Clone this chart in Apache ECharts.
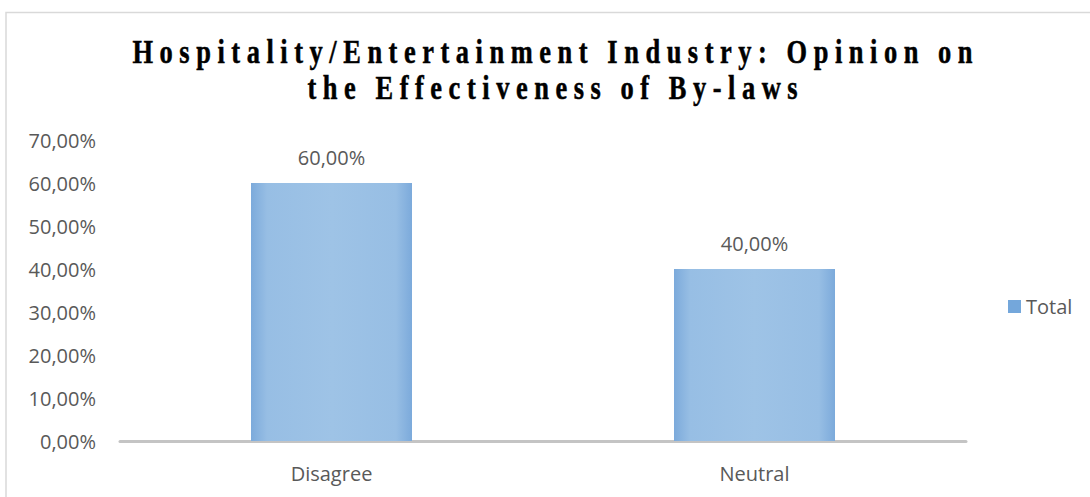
<!DOCTYPE html>
<html>
<head>
<meta charset="utf-8">
<title>Hospitality/Entertainment Industry: Opinion on the Effectiveness of By-laws</title>
<script src="https://cdn.jsdelivr.net/npm/echarts@6/dist/echarts.min.js"></script>
<style>
  html, body { margin: 0; padding: 0; background: #ffffff; }
  #chart { width: 1090px; height: 497px; }
  /* widely tracked serif heading */
  #chart svg text[style*="Liberation Serif"] { letter-spacing: 8.2px; }
</style>
</head>
<body>
<div id="chart"></div>
<script>
// Chart data
const titleLines = ['Hospitality/Entertainment Industry: Opinion on', 'the Effectiveness of By-laws'];
const categories = ['Disagree', 'Neutral'];
const seriesName = 'Total';
const totalValues = [60, 40];          // percent
const yAxisMin = 0;
const yAxisMax = 70;
const yAxisStep = 10;

const fmtPct = v => v.toFixed(2).replace('.', ',') + '%';
const labelColor = '#595959';
const labelFont = '"Open Sans", "Liberation Sans", sans-serif';
const labelSize = 20;

const barFill = new echarts.graphic.LinearGradient(0, 0, 1, 0, [
  { offset: 0, color: '#7caadb' },
  { offset: 0.1, color: '#97bee4' },
  { offset: 0.5, color: '#9ec3e6' },
  { offset: 0.9, color: '#97bee4' },
  { offset: 1, color: '#7caadb' }
]);

const chart = echarts.init(document.getElementById('chart'), null, { renderer: 'svg' });

const titleStyle = {
  font: 'bold 33px "Liberation Serif", "Times New Roman", serif',
  fill: '#000000',
  stroke: '#000000',
  lineWidth: 0.5,
  textAlign: 'center',
  textVerticalAlign: 'middle'
};

chart.setOption({
  backgroundColor: '#ffffff',
  animation: false,
  graphic: [
    {
      type: 'rect',
      silent: true,
      shape: { x: 6, y: 12.5, width: 1200, height: 600 },
      style: { fill: 'none', stroke: '#d9d9d9', lineWidth: 1.5 },
      z: -1
    },
    {
      type: 'text', x: 555.8, y: 51, scaleX: 0.8, silent: true,
      style: Object.assign({ text: titleLines[0] }, titleStyle)
    },
    {
      type: 'text', x: 555.8, y: 87, scaleX: 0.8, silent: true,
      style: Object.assign({ text: titleLines[1] }, titleStyle)
    }
  ],
  grid: { left: 120, right: 124, top: 140, bottom: 56, containLabel: false },
  legend: {
    orient: 'vertical',
    left: 1008,
    top: 296.5,
    padding: 0,
    itemWidth: 13,
    itemHeight: 13,
    icon: 'rect',
    data: [{ name: seriesName, itemStyle: { color: '#74a7db' } }],
    textStyle: { color: labelColor, fontSize: labelSize, fontFamily: labelFont }
  },
  xAxis: {
    type: 'category',
    data: categories,
    axisLine: { show: true, lineStyle: { color: '#c4c4c4', width: 3 } },
    axisTick: { show: false },
    axisLabel: { color: labelColor, fontSize: labelSize, fontFamily: labelFont, margin: 22 },
    splitLine: { show: false }
  },
  yAxis: {
    type: 'value',
    min: yAxisMin,
    max: yAxisMax,
    interval: yAxisStep,
    axisLine: { show: false },
    axisTick: { show: false },
    splitLine: { show: false },
    axisLabel: {
      color: labelColor, fontSize: labelSize, fontFamily: labelFont, margin: 24,
      formatter: v => fmtPct(v)
    }
  },
  series: [{
    name: seriesName,
    type: 'bar',
    data: totalValues,
    barWidth: 161,
    itemStyle: { color: barFill },
    label: {
      show: true,
      position: 'top',
      distance: 16,
      color: labelColor,
      fontSize: labelSize,
      fontFamily: labelFont,
      formatter: p => fmtPct(p.value)
    }
  }]
});
</script>
</body>
</html>
